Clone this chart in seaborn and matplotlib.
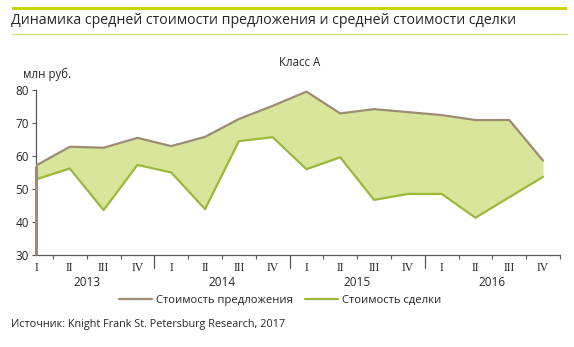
import matplotlib
matplotlib.use("Agg")
import matplotlib.pyplot as plt
import matplotlib.transforms as mtransforms
from matplotlib.lines import Line2D
from matplotlib.patches import Rectangle
import seaborn as sns
import pandas as pd
import numpy as np

# ---- data ----
quarters = ["I", "II", "III", "IV"] * 4
years = ["2013", "2014", "2015", "2016"]
offer_price = [57.1, 62.8, 62.5, 65.5, 63.0, 65.8, 71.2, 75.2,
               79.5, 72.9, 74.2, 73.3, 72.4, 70.9, 70.9, 58.6]
deal_price = [52.9, 56.2, 43.6, 57.3, 55.0, 43.9, 64.5, 65.7,
              56.0, 59.6, 46.7, 48.5, 48.5, 41.3, 47.5, 53.7]
y_ticks = [30, 40, 50, 60, 70, 80]
series_names = ["Стоимость предложения", "Стоимость сделки"]

OFFER_C = "#9e8b74"
DEAL_C = "#9bb83a"
FILL_C = "#d9e59b"
TEXT_C = "#262626"

sns.set_style("white")
plt.rcParams['font.family'] = ['Open Sans', 'DejaVu Sans']

W, H = 574, 347
fig = plt.figure(figsize=(W / 100, H / 100), dpi=100)

def fx(px):
    return px / W

def fy(py):
    return 1 - py / H

# header decoration
fig.add_artist(Rectangle((fx(12), fy(10)), fx(567) - fx(12), fy(6.5) - fy(10),
                         transform=fig.transFigure, color="#c8d400", lw=0))
fig.add_artist(Line2D([fx(12), fx(567)], [fy(33.5), fy(33.5)],
                      transform=fig.transFigure, color="#d4de7a", lw=1))
fig.text(fx(11), fy(21), "Динамика средней стоимости предложения и средней стоимости сделки",
         fontsize=10.2, color=TEXT_C, va="center", ha="left")

ax = fig.add_axes([fx(36), fy(255), fx(560) - fx(36), fy(90) - fy(255)])

n = len(offer_price)
x = np.arange(n)
df = pd.DataFrame({"x": x, "offer": offer_price, "deal": deal_price})

ax.fill_between(df["x"], df["deal"], df["offer"], color=FILL_C, lw=0, zorder=1)
sns.lineplot(data=df, x="x", y="offer", ax=ax, color=OFFER_C, lw=1.6, zorder=3)
sns.lineplot(data=df, x="x", y="deal", ax=ax, color=DEAL_C, lw=1.6, zorder=3)
ax.plot([x[0], x[0]], [y_ticks[0], offer_price[0]], color=OFFER_C, lw=2.2, zorder=4,
        clip_on=False, solid_capstyle="butt")

ax.set_xlim(-0.0, n - 1 + 0.11)
ax.set_ylim(y_ticks[0], y_ticks[-1])
ax.set_xlabel("")
ax.set_ylabel("")

for s in ["top", "right"]:
    ax.spines[s].set_visible(False)
ax.spines["left"].set_color("#595959")
ax.spines["left"].set_linewidth(0.9)
ax.spines["bottom"].set_color("#595959")
ax.spines["bottom"].set_linewidth(0.9)

ax.set_yticks(y_ticks)
ax.set_yticklabels([str(v) for v in y_ticks])
ax.tick_params(axis="y", which="major", direction="out", length=3, width=0.8,
               color="#595959", labelsize=8.5, labelcolor=TEXT_C, pad=2, left=True)

ax.set_xticks(x)
ax.set_xticklabels(quarters, family=["Liberation Serif", "DejaVu Serif"])
ax.tick_params(axis="x", which="major", length=0, labelsize=8.5, labelcolor=TEXT_C, pad=5)

year_bounds = [4 * (i + 1) - 0.5 for i in range(len(years) - 1)]
minor = [i + 0.5 for i in range(n) if (i + 0.5) not in year_bounds]
ax.set_xticks(minor, minor=True)
ax.tick_params(axis="x", which="minor", direction="out", length=3, width=0.8,
               color="#595959", bottom=True)

for b in year_bounds:
    ax.axvline(b, ymin=-13 / 165, ymax=0, color="#595959", lw=0.9, clip_on=False)

trans = mtransforms.blended_transform_factory(ax.transData, ax.transAxes)
for i, yr in enumerate(years):
    ax.text(4 * i + 1.5, -(282 - 255) / 165, yr, transform=trans, ha="center",
            va="center", fontsize=8.5, color=TEXT_C)

fig.text(fx(23), fy(74), "млн руб.", fontsize=8.3, color=TEXT_C, ha="left", va="center")
fig.text(fx(300), fy(63), "Класс А", fontsize=8.3, color=TEXT_C, ha="center", va="center")

handles = [Line2D([], [], color=OFFER_C, lw=1.6), Line2D([], [], color=DEAL_C, lw=1.6)]
fig.legend(handles, series_names, loc="center", bbox_to_anchor=(fx(280), fy(300)),
           ncol=2, frameon=False, fontsize=8.1, handlelength=2.9, handletextpad=0.35,
           columnspacing=1.1, labelcolor=TEXT_C)

fig.text(fx(11), fy(324), "Источник: Knight Frank St. Petersburg Research, 2017",
         fontsize=7.8, color=TEXT_C, ha="left", va="center")

fig.savefig("out.png", dpi=100)
